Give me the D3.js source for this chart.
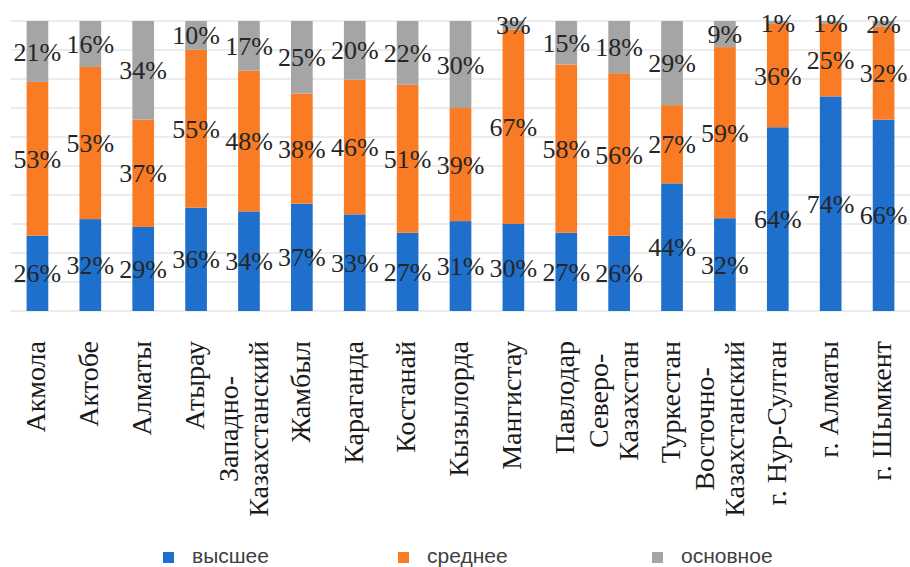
<!DOCTYPE html>
<html>
<head>
<meta charset="utf-8">
<script src="https://cdn.jsdelivr.net/npm/d3@7/dist/d3.min.js"></script>
<style>
  html, body { margin: 0; padding: 0; background: #fff; }
  svg { display: block; }
</style>
</head>
<body>
<svg id="chart" width="910" height="567"></svg>
<script>
// Regions (multi-line names are split by "|")
const regions = [
  "Акмола", "Актобе", "Алматы", "Атырау", "Западно-|Казахстанский", "Жамбыл",
  "Караганда", "Костанай", "Кызылорда", "Мангистау", "Павлодар",
  "Северо-|Казахстан", "Туркестан", "Восточно-|Казахстанский",
  "г. Нур-Султан", "г. Алматы", "г. Шымкент"
];

// Share of each education level, %
const higher    = [26, 32, 29, 36, 34, 37, 33, 27, 31, 30, 27, 26, 44, 32, 64, 74, 66];
const secondary = [53, 53, 37, 55, 48, 38, 46, 51, 39, 67, 58, 56, 27, 59, 36, 25, 32];
const basic     = [21, 16, 34, 10, 17, 25, 20, 22, 30,  3, 15, 18, 29,  9,  1,  1,  2];

const seriesNames  = ["высшее", "среднее", "основное"];
const seriesColors = ["#1f6fcc", "#f97b24", "#a5a5a5"];
const gridTicks    = [0, 0.1, 0.2, 0.3, 0.4, 0.5, 0.6, 0.7, 0.8, 0.9, 1];

const rows = regions.map((r, i) => ({
  region: r,
  "высшее": higher[i],
  "среднее": secondary[i],
  "основное": basic[i]
}));

const svg = d3.select("#chart");
const plot = { left: 11, right: 910, top: 21, bottom: 311 };

const x = d3.scaleBand()
  .domain(regions)
  .range([plot.left, plot.right])
  .paddingInner(0.59)
  .paddingOuter(0.295);

const y = d3.scaleLinear().domain([0, 1]).range([plot.bottom, plot.top]);

const stacked = d3.stack()
  .keys(seriesNames)
  .offset(d3.stackOffsetExpand)(rows);

// Horizontal gridlines
svg.append("g")
  .selectAll("line")
  .data(gridTicks)
  .join("line")
  .attr("x1", plot.left)
  .attr("x2", plot.right)
  .attr("y1", d => y(d))
  .attr("y2", d => y(d))
  .attr("stroke", "#d9d9d9")
  .attr("stroke-width", 1);

// Stacked bars
const layers = svg.append("g")
  .selectAll("g")
  .data(stacked)
  .join("g")
  .attr("fill", (d, i) => seriesColors[i]);

layers.selectAll("rect")
  .data(d => d)
  .join("rect")
  .attr("x", d => x(d.data.region))
  .attr("width", x.bandwidth())
  .attr("y", d => y(d[1]))
  .attr("height", d => y(d[0]) - y(d[1]));

// Value labels at the middle of each segment
const labels = svg.append("g")
  .attr("font-family", "'Liberation Serif', 'Times New Roman', serif")
  .attr("font-size", 26)
  .attr("fill", "#262626")
  .attr("text-anchor", "middle");

stacked.forEach(layer => {
  labels.selectAll(null)
    .data(layer)
    .join("text")
    .attr("x", d => x(d.data.region) + x.bandwidth() / 2)
    .attr("y", d => y((d[0] + d[1]) / 2))
    .attr("dy", "0.35em")
    .text(d => d.data[layer.key] + "%");
});

// Category axis labels, rotated; wrapped lines are centred on each other
const axisG = svg.append("g")
  .attr("font-family", "'Liberation Serif', 'Times New Roman', serif")
  .attr("font-size", 28)
  .attr("fill", "#1a1a1a");

const labelTop = 341;
const lineGap = 30;
regions.forEach(r => {
  const lines = r.split("|");
  const cx = x(r) + x.bandwidth() / 2;
  const shift = lines.length > 1 ? -6 : -2;
  const t = axisG.append("text")
    .attr("transform", `translate(${cx},${labelTop}) rotate(-90)`)
    .attr("text-anchor", "middle");
  const spans = lines.map((ln, k) =>
    t.append("tspan")
      .attr("y", (k - (lines.length - 1) / 2) * lineGap + shift)
      .attr("dy", "0.35em")
      .text(ln));
  const maxLen = d3.max(spans, s => s.node().getComputedTextLength());
  spans.forEach(s => s.attr("x", -maxLen / 2));
});

// Legend
const legend = svg.append("g")
  .attr("font-family", "'Liberation Sans', Arial, sans-serif")
  .attr("font-size", 21)
  .attr("fill", "#404040");

const legendX = [163, 398, 652];
seriesNames.forEach((name, i) => {
  legend.append("rect")
    .attr("x", legendX[i])
    .attr("y", 552)
    .attr("width", 11)
    .attr("height", 11)
    .attr("fill", seriesColors[i]);
  legend.append("text")
    .attr("x", legendX[i] + 29)
    .attr("y", 563)
    .text(name);
});
</script>
</body>
</html>
